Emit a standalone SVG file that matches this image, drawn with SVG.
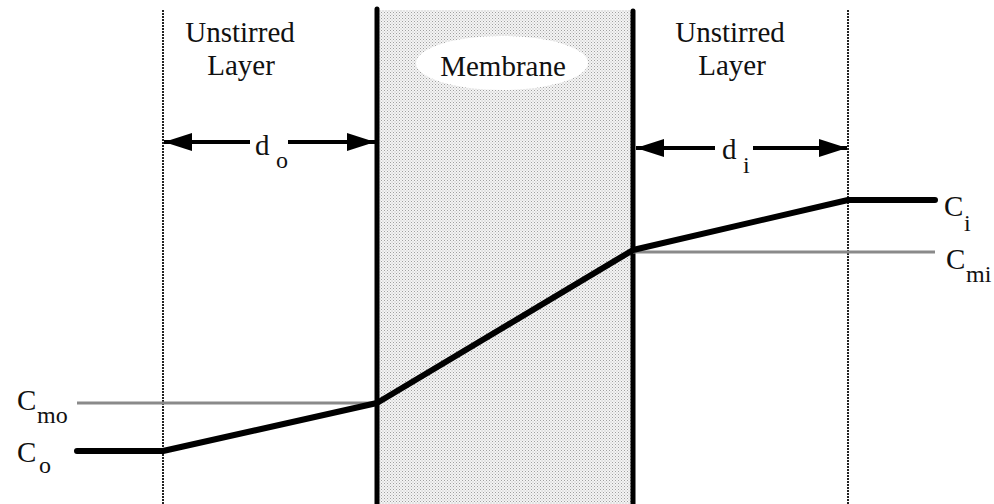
<svg xmlns="http://www.w3.org/2000/svg" width="994" height="504" viewBox="0 0 994 504">
  <style>
    .t { font-family: "Liberation Serif", "DejaVu Serif", serif; font-size: 29px; fill: #111; }
    .s { font-family: "Liberation Serif", "DejaVu Serif", serif; font-size: 24px; fill: #111; }
    .dot { stroke: #222; stroke-width: 2; stroke-dasharray: 2 1; fill: none; }
    .wall { stroke: #000; stroke-width: 5; stroke-linecap: round; fill: none; }
    .ref { stroke: #8a8a8a; stroke-width: 3; fill: none; }
    .arrow { stroke: #000; stroke-width: 4; fill: none; marker-end: url(#ah); }
    .profile { stroke: #000; stroke-width: 6; stroke-linecap: round; stroke-linejoin: round; fill: none; }
  </style>
  <defs>
    <pattern id="stipple" x="0" y="0" width="3" height="3" patternUnits="userSpaceOnUse">
      <rect width="3" height="3" fill="#f4f4f4"/>
      <rect width="1" height="1" fill="#a0a0a0"/>
      <rect x="1.5" y="1.5" width="1" height="1" fill="#b8b8b8"/>
    </pattern>
    <marker id="ah" viewBox="0 0 28 18" refX="28" refY="9" markerWidth="28" markerHeight="18" markerUnits="userSpaceOnUse" orient="auto">
      <path d="M0,0 L28,9 L0,18 z" fill="#000"/>
    </marker>
  </defs>
  <rect width="994" height="504" fill="#ffffff"/>

  <g id="membrane">
    <rect x="379" y="10" width="252" height="494" fill="url(#stipple)"/>
    <ellipse cx="502" cy="63" rx="86" ry="27" fill="#ffffff"/>
    <text class="t" x="503" y="76" text-anchor="middle">Membrane</text>
    <line class="wall" x1="377" y1="9" x2="377" y2="506"/>
    <line class="wall" x1="633" y1="11" x2="633" y2="506"/>
  </g>

  <g id="unstirred-left">
    <line class="dot" x1="163" y1="10" x2="163" y2="504"/>
    <text class="t" x="240" y="42" text-anchor="middle">Unstirred</text>
    <text class="t" x="241" y="75" text-anchor="middle">Layer</text>
  </g>

  <g id="unstirred-right">
    <line class="dot" x1="848" y1="10" x2="848" y2="504"/>
    <text class="t" x="730" y="42" text-anchor="middle">Unstirred</text>
    <text class="t" x="732" y="75" text-anchor="middle">Layer</text>
  </g>

  <g id="reference-levels">
    <line class="ref" x1="77" y1="403" x2="377" y2="403"/>
    <line class="ref" x1="633" y1="252" x2="935" y2="252"/>
  </g>

  <g id="labels">
    <text class="t" x="255" y="155">d</text>
    <text class="s" x="276" y="168">o</text>
    <text class="t" x="722" y="159">d</text>
    <text class="s" x="743" y="173">i</text>
    <text class="t" x="944" y="216">C</text>
    <text class="s" x="964" y="231">i</text>
    <text class="t" x="946" y="269">C</text>
    <text class="s" x="966" y="282">mi</text>
    <text class="t" x="17" y="410">C</text>
    <text class="s" x="37" y="423">mo</text>
    <text class="t" x="17" y="462">C</text>
    <text class="s" x="39" y="473">o</text>
  </g>

  <g id="connectors">
    <line class="arrow" x1="250" y1="142" x2="164" y2="142"/>
    <line class="arrow" x1="288" y1="142" x2="375" y2="142"/>
    <line class="arrow" x1="715" y1="148" x2="636" y2="148"/>
    <line class="arrow" x1="753" y1="148" x2="847" y2="148"/>
    <polyline class="profile" points="77,451 163,451 377,403 633,250 848,200 935,200"/>
  </g>
</svg>
